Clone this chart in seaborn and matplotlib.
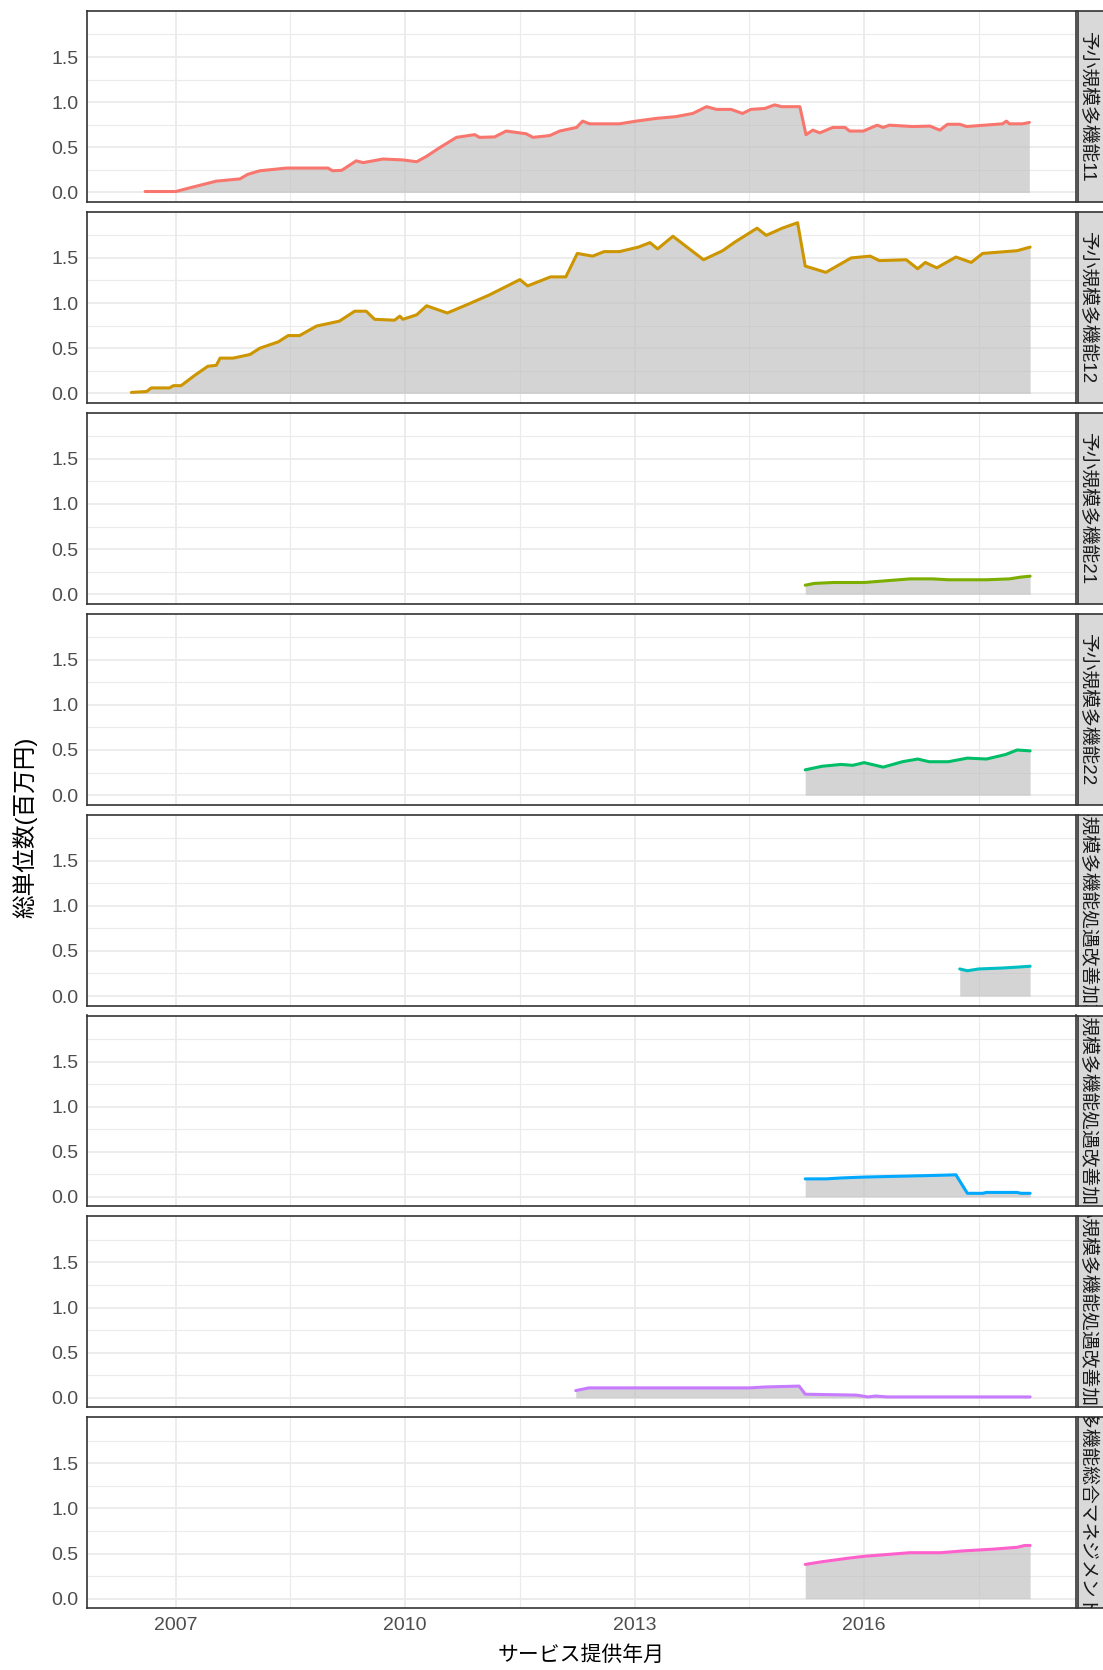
import matplotlib
matplotlib.use('Agg')
import matplotlib.pyplot as plt
import seaborn as sns
import pandas as pd

# facet labels (strip text on the right)
facet_labels = [
    '予小規模多機能11',
    '予小規模多機能12',
    '予小規模多機能21',
    '予小規模多機能22',
    '予小規模多機能処遇改善加算Ⅰ',
    '予小規模多機能処遇改善加算Ⅱ',
    '予小規模多機能処遇改善加算Ⅲ',
    '予小規模多機能総合マネジメント体制加算',
]
facet_colors = ['#F8766D', '#CD9600', '#7CAE00', '#00BE67',
                '#00BFC4', '#00A9FF', '#C77CFF', '#FF61CC']

# (year, 百万円)
s11 = [(2006.6, 0.01), (2007.0, 0.01), (2007.18, 0.05), (2007.53, 0.125), (2007.84, 0.15),
       (2007.94, 0.20), (2008.1, 0.24), (2008.45, 0.27), (2008.99, 0.27), (2009.05, 0.24),
       (2009.17, 0.245), (2009.36, 0.35), (2009.45, 0.33), (2009.58, 0.35), (2009.71, 0.37),
       (2009.97, 0.36), (2010.15, 0.34), (2010.28, 0.40), (2010.43, 0.485), (2010.67, 0.61),
       (2010.91, 0.64), (2010.97, 0.61), (2011.17, 0.615), (2011.32, 0.68), (2011.58, 0.65),
       (2011.67, 0.61), (2011.89, 0.63), (2012.02, 0.68), (2012.24, 0.72), (2012.32, 0.79),
       (2012.41, 0.76), (2012.80, 0.76), (2013.02, 0.79), (2013.28, 0.82), (2013.54, 0.84),
       (2013.76, 0.875), (2013.94, 0.95), (2014.07, 0.92), (2014.26, 0.92), (2014.41, 0.875),
       (2014.52, 0.92), (2014.70, 0.93), (2014.83, 0.97), (2014.92, 0.95), (2015.16, 0.95),
       (2015.24, 0.64), (2015.33, 0.69), (2015.42, 0.66), (2015.59, 0.72), (2015.75, 0.72),
       (2015.81, 0.68), (2015.99, 0.68), (2016.17, 0.745), (2016.25, 0.72), (2016.33, 0.745),
       (2016.64, 0.73), (2016.86, 0.735), (2016.99, 0.69), (2017.09, 0.755), (2017.25, 0.755),
       (2017.34, 0.73), (2017.81, 0.76), (2017.86, 0.79), (2017.90, 0.76), (2018.07, 0.76),
       (2018.16, 0.775)]
s12 = [(2006.42, 0.01), (2006.62, 0.02), (2006.68, 0.06), (2006.92, 0.06), (2006.97, 0.085),
       (2007.07, 0.085), (2007.25, 0.20), (2007.42, 0.30), (2007.53, 0.31), (2007.58, 0.39),
       (2007.75, 0.39), (2007.97, 0.43), (2008.10, 0.50), (2008.34, 0.57), (2008.47, 0.64),
       (2008.62, 0.64), (2008.84, 0.745), (2009.14, 0.80), (2009.34, 0.91), (2009.49, 0.91),
       (2009.60, 0.82), (2009.86, 0.81), (2009.93, 0.855), (2009.97, 0.82), (2010.15, 0.87),
       (2010.28, 0.97), (2010.55, 0.89), (2010.83, 0.99), (2011.1, 1.09), (2011.5, 1.26),
       (2011.6, 1.19), (2011.9, 1.29), (2012.1, 1.29), (2012.25, 1.55), (2012.45, 1.52),
       (2012.6, 1.57), (2012.8, 1.57), (2013.05, 1.62), (2013.2, 1.67), (2013.3, 1.60),
       (2013.5, 1.74), (2013.9, 1.48), (2014.15, 1.58), (2014.3, 1.67), (2014.6, 1.83),
       (2014.72, 1.75), (2014.93, 1.83), (2015.13, 1.89), (2015.23, 1.41), (2015.5, 1.34),
       (2015.83, 1.50), (2016.08, 1.52), (2016.2, 1.47), (2016.55, 1.48), (2016.7, 1.38),
       (2016.8, 1.45), (2016.95, 1.39), (2017.2, 1.51), (2017.4, 1.45), (2017.55, 1.55),
       (2018.0, 1.58), (2018.17, 1.62)]
s21 = [(2015.23, 0.10), (2015.35, 0.12), (2015.6, 0.13), (2016.0, 0.13), (2016.3, 0.15),
       (2016.6, 0.17), (2016.9, 0.17), (2017.1, 0.16), (2017.6, 0.16), (2017.9, 0.17),
       (2018.05, 0.19), (2018.17, 0.20)]
s22 = [(2015.23, 0.28), (2015.45, 0.32), (2015.7, 0.34), (2015.85, 0.33), (2016.0, 0.36),
       (2016.25, 0.31), (2016.5, 0.37), (2016.7, 0.40), (2016.85, 0.37), (2017.1, 0.37),
       (2017.35, 0.41), (2017.6, 0.40), (2017.85, 0.45), (2018.0, 0.50), (2018.17, 0.49)]
s_kaizen1 = [(2017.25, 0.30), (2017.35, 0.28), (2017.5, 0.30), (2017.8, 0.31), (2018.0, 0.32),
             (2018.17, 0.33)]
s_kaizen2 = [(2015.23, 0.20), (2015.5, 0.20), (2015.7, 0.21), (2016.0, 0.22), (2016.5, 0.23),
             (2017.0, 0.24), (2017.2, 0.245), (2017.35, 0.04), (2017.55, 0.04), (2017.6, 0.05),
             (2018.0, 0.05), (2018.05, 0.04), (2018.17, 0.04)]
s_kaizen3 = [(2012.23, 0.08), (2012.4, 0.11), (2014.5, 0.11), (2014.7, 0.12), (2015.15, 0.13),
             (2015.23, 0.04), (2015.9, 0.03), (2016.05, 0.01), (2016.15, 0.02), (2016.3, 0.01),
             (2018.17, 0.01)]
s_manage = [(2015.23, 0.38), (2015.45, 0.41), (2015.8, 0.45), (2016.0, 0.47), (2016.3, 0.49),
            (2016.6, 0.51), (2017.0, 0.51), (2017.3, 0.53), (2017.7, 0.55), (2018.0, 0.57),
            (2018.1, 0.59), (2018.17, 0.59)]
series = [s11, s12, s21, s22, s_kaizen1, s_kaizen2, s_kaizen3, s_manage]

x_ticks = [2007, 2010, 2013, 2016]
x_minor = [2008.5, 2011.5, 2014.5, 2017.5]
y_ticks = [0.0, 0.5, 1.0, 1.5]
y_minor = [0.25, 0.75, 1.25, 1.75]

W, H = 1103, 1670
sns.set_theme(style='white')
plt.rcParams['font.family'] = ['Liberation Sans', 'Noto Sans CJK JP', 'DejaVu Sans']

fig = plt.figure(figsize=(W / 100, H / 100), dpi=100)

left, right = 87, 1076
top0, ph, gap = 11, 190.9, 10.0

for k, (pts, lab, col) in enumerate(zip(series, facet_labels, facet_colors)):
    top = top0 + k * (ph + gap)
    ax = fig.add_axes([left / W, 1 - (top + ph) / H, (right - left) / W, ph / H])
    df = pd.DataFrame(pts, columns=['year', 'value'])

    ax.fill_between(df['year'], df['value'], 0, color='#BEBEBE', alpha=0.65, lw=0, zorder=2)
    sns.lineplot(data=df, x='year', y='value', color=col, lw=2.2, ax=ax, zorder=3)

    ax.set_xticks(x_ticks)
    ax.set_xticks(x_minor, minor=True)
    ax.set_yticks(y_ticks)
    ax.set_yticklabels([f'{v:.1f}' for v in y_ticks])
    ax.set_yticks(y_minor, minor=True)
    ax.set_xlim(2005.84, 2018.77)
    ax.set_ylim(-0.105, 2.01)
    ax.set_axisbelow(True)
    ax.grid(which='major', color='#EBEBEB', lw=1.3, zorder=0)
    ax.grid(which='minor', color='#EBEBEB', lw=0.8, zorder=0)
    ax.set_xlabel('')
    ax.set_ylabel('')
    for sp in ax.spines.values():
        sp.set_color('#333333')
        sp.set_linewidth(1.2)
    ax.tick_params(which='major', length=4, width=1, color='#333333',
                   labelsize=14, labelcolor='#4D4D4D', pad=2)
    ax.tick_params(which='minor', length=0)
    if k < 7:
        ax.tick_params(axis='x', which='both', length=0, labelbottom=False)

    # strip on the right
    sax = fig.add_axes([1078 / W, 1 - (top + ph) / H, 32 / W, ph / H])
    sax.set_facecolor('#D9D9D9')
    sax.set_xticks([])
    sax.set_yticks([])
    for sp in sax.spines.values():
        sp.set_color('#333333')
        sp.set_linewidth(1.2)
    sax.text(0.29, 0.5, lab, rotation=-90, rotation_mode='anchor',
             ha='center', va='center', fontsize=13.5, color='#1A1A1A',
             transform=sax.transAxes, clip_on=True)

fig.text(25 / W, 1 - 827 / H, '総単位数(百万円)', rotation=90, ha='center', va='center',
         fontsize=17, color='black')
fig.text(581 / W, 1 - 1655 / H, 'サービス提供年月', ha='center', va='center',
         fontsize=15, color='black')

fig.savefig('out.png', dpi=100)
